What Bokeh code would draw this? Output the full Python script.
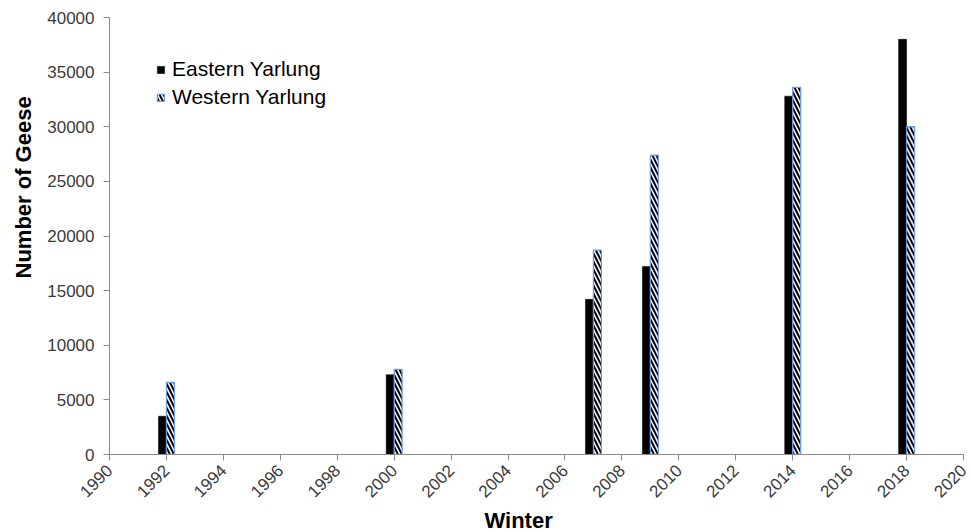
import math
from bokeh.plotting import figure
from bokeh.models import ColumnDataSource, Range1d, FixedTicker, Legend, LegendItem, Title
from bokeh.transform import dodge
from bokeh.embed import file_html
from bokeh.resources import INLINE

# ---- data ----
years = [1992, 2000, 2007, 2009, 2014, 2018]
eastern = [3500, 7300, 14200, 17200, 32800, 38000]
western = [6600, 7800, 18700, 27400, 33600, 30000]
x_ticks = list(range(1990, 2021, 2))
y_ticks = list(range(0, 40001, 5000))
series_names = ["Eastern Yarlung", "Western Yarlung"]
x_title = "Winter"
y_title = "Number of  Geese"

src = ColumnDataSource(dict(year=years, eastern=eastern, western=western))

FONT = "Liberation Sans"
AXIS_GRAY = "#8c8c8c"
TEXT_GRAY = "#3a3a3a"

p = figure(width=971, height=532, output_backend="svg", toolbar_location=None,
           x_range=Range1d(1990, 2020), y_range=Range1d(0, 40000),
           min_border_left=108, min_border_right=8, min_border_top=17,
           min_border_bottom=76)
p.outline_line_color = None
p.grid.visible = False
p.background_fill_color = "white"
p.border_fill_color = "white"

bw = 0.28
r_e = p.vbar(x=dodge("year", -bw / 2), top="eastern", width=bw, bottom=0, source=src,
             fill_color="black", line_color="black", line_width=0.5)
r_w = p.vbar(x=dodge("year", bw / 2), top="western", width=bw, bottom=0, source=src,
             fill_color="white", line_color="#6a9ee8", line_width=1.3,
             hatch_pattern="\\", hatch_color="black", hatch_scale=8, hatch_weight=2)

# axes
p.xaxis.ticker = FixedTicker(ticks=x_ticks)
p.yaxis.ticker = FixedTicker(ticks=y_ticks)
for ax in (p.xaxis, p.yaxis):
    ax.axis_line_color = AXIS_GRAY
    ax.major_tick_line_color = AXIS_GRAY
    ax.minor_tick_line_color = None
    ax.major_tick_in = 0
    ax.major_tick_out = 6
    ax.major_label_text_font = FONT
    ax.major_label_text_font_size = "17px"
    ax.major_label_text_color = TEXT_GRAY

p.xaxis.major_label_orientation = math.pi / 4
p.xaxis.major_label_standoff = 7
p.yaxis.major_label_standoff = 9

# axis titles as side-panel titles so they can be positioned along the axis
title_style = dict(text_font=FONT, text_font_style="bold", text_font_size="22px",
                   text_color="black", align="left")
p.add_layout(Title(text=x_title, offset=375, standoff=0, **title_style), "below")
p.add_layout(Title(text=y_title, offset=176, standoff=17, **title_style), "left")

legend = Legend(items=[LegendItem(label=series_names[0], renderers=[r_e]),
                       LegendItem(label=series_names[1], renderers=[r_w])],
                location=(47, 345), orientation="vertical",
                background_fill_alpha=0, border_line_color=None,
                glyph_width=9, glyph_height=9, label_standoff=7, spacing=4,
                padding=0, margin=0,
                label_text_font=FONT, label_text_font_size="21px",
                label_text_color="black", label_height=20)
p.add_layout(legend)

open("out.html", "w").write(file_html(p, INLINE))
